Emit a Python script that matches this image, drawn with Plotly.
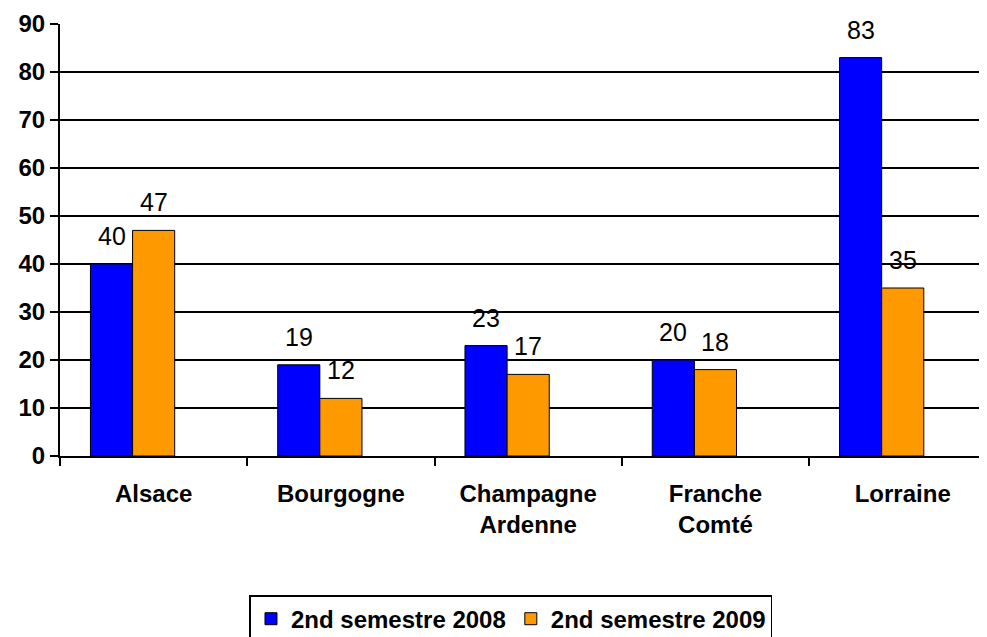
import plotly.graph_objects as go

categories = ["Alsace", "Bourgogne", "Champagne<br>Ardenne", "Franche<br>Comté", "Lorraine"]
series_names = ["2nd semestre 2008", "2nd semestre 2009"]
values_2008 = [40, 19, 23, 20, 83]
values_2009 = [47, 12, 17, 18, 35]
y_ticks = [0, 10, 20, 30, 40, 50, 60, 70, 80, 90]

colors = ["#0000FF", "#FF9900"]
bar_w = 0.225
offsets = [-1.5 * bar_w, -0.5 * bar_w]
FONT = "Liberation Sans, Arial"

fig = go.Figure()
for name, vals, col, off in zip(series_names, [values_2008, values_2009], colors, offsets):
    fig.add_trace(go.Bar(
        x=categories, y=vals, name=name,
        marker=dict(color=col, line=dict(color="black", width=1)),
        width=bar_w, offset=off,
    ))

# value labels
annotations = []
for vals, off in zip([values_2008, values_2009], offsets):
    for i, v in enumerate(vals):
        annotations.append(dict(
            x=i + off + bar_w / 2, y=v, xref="x", yref="y",
            text=str(v), showarrow=False, yshift=28,
            font=dict(family=FONT, size=25, color="black"),
        ))

# page body has an 8px default margin; compensate so the figure fills the window
fig.update_layout(
    width=979, height=629,
    margin=dict(l=52, r=0, t=16, b=181, autoexpand=False),
    paper_bgcolor="white", plot_bgcolor="white",
    barmode="overlay",
    annotations=annotations,
    font=dict(family=FONT, color="black"),
    legend=dict(
        orientation="h", x=0.4865, y=-0.322, xanchor="center", yanchor="top",
        bordercolor="black", borderwidth=1.5,
        font=dict(size=24, family=FONT, color="black", weight="bold"),
        itemwidth=30, tracegroupgap=0,
    ),
    showlegend=True,
)
fig.update_xaxes(
    type="category", range=[-0.5, 4.45],
    showline=True, linecolor="black", linewidth=2,
    ticks="outside", tickson="boundaries", ticklen=8, tickcolor="black", tickwidth=2,
    tickfont=dict(size=24, family=FONT, color="black", weight="bold"),
    ticklabelstandoff=15, automargin=False,
    showgrid=False,
)
fig.update_yaxes(
    range=[0, 90], tickvals=y_ticks,
    showline=True, linecolor="black", linewidth=2,
    ticks="outside", ticklen=8, tickcolor="black", tickwidth=2,
    tickfont=dict(size=24, family=FONT, color="black", weight="bold"),
    showgrid=True, gridcolor="black", gridwidth=1.5,
    zeroline=False, automargin=False,
)

fig.write_html("out.html")
